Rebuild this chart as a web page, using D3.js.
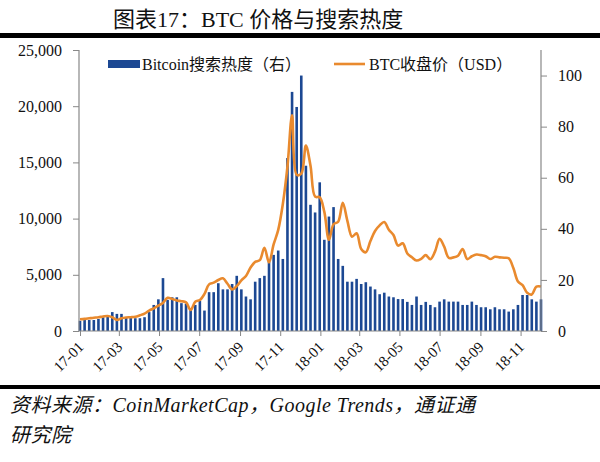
<!DOCTYPE html>
<html><head><meta charset="utf-8">
<script src="https://cdn.jsdelivr.net/npm/d3@7"></script>
<style>
html,body{margin:0;padding:0;background:#fff;}
svg{display:block;}
</style></head>
<body><div id="chart"></div>
<script>
// ---------- data ----------
const firstWeek = "2017-01-01";
const lastWeek = "2018-12-02";
// Google search interest for "Bitcoin" (right axis), weekly
const searchValues = [4.0,4.3,4.3,4.3,4.7,5.4,5.9,7.4,6.7,6.7,5.4,5.4,5.0,5.0,5.4,7.4,10.2,12.4,20.7,12.2,13.2,13.2,10.9,10.7,8.3,10.2,11.8,8.0,15.2,15.2,18.7,16.3,16.3,18.4,
21.6,16.3,13.5,12.4,19.3,20.7,21.6,27.2,29.8,31.5,28.2,67.7,93.6,87.7,100,64.7,49.4,46.4,58.2,35.7,44.8,48.5,28.2,25.5,19.3,
19.3,20.4,18.4,19.1,17.4,16.3,14.4,15.0,13.5,13.2,12.5,12.5,11.4,10.2,13.5,10.2,11.4,10.2,9.3,
11.5,12.4,11.5,11.5,11.5,10.2,10.2,11.5,10.2,9.3,9.3,8.5,9.3,8.5,8.5,7.6,8.5,10.2,14.1,14.1,12.4,11.5,12.4];
// BTC close price (USD, left axis), weekly
const priceValues = [1040,1080,1130,1180,1220,1290,1335,1220,990,1130,1200,1230,1270,1400,1550,1820,2020,2250,2500,2950,2850,2720,2650,2550,1870,2600,2760,
3300,4150,4300,4540,4690,4200,3700,3990,4500,4900,5650,6150,6300,7400,6100,7700,9000,11300,14620,19200,13900,14000,16500,14700,11950,11900,10600,8100,
9500,9720,11400,9800,8390,8690,7300,7000,8000,8900,9400,9700,9000,8540,7600,7800,6900,6560,6270,6420,6750,6380,7060,8200,7500,6500,6550,6700,7300,6400,6650,6800,6750,6650,6400,6600,6550,6520,6470,5600,4400,4080,3400,3250,3950,3950];
const xTickDates = ["2017-01-01","2017-03-01","2017-05-01","2017-07-01","2017-09-01","2017-11-01","2018-01-01","2018-03-01","2018-05-01","2018-07-01","2018-09-01","2018-11-01"];
const xTickLabels = ["17-01","17-03","17-05","17-07","17-09","17-11","18-01","18-03","18-05","18-07","18-09","18-11"];
const leftTicks = [0,5000,10000,15000,20000,25000];
const rightTicks = [0,20,40,60,80,100];
const titleText = "图表17：BTC 价格与搜索热度";
const legendLabels = ["Bitcoin搜索热度（右）","BTC收盘价（USD）"];
const sourceLines = ["资料来源：CoinMarketCap，Google Trends，通证通","研究院"];

// ---------- setup ----------
const W = 600, H = 462;
const parse = d3.timeParse("%Y-%m-%d");
const weeks = d3.timeDay.range(parse(firstWeek), d3.timeDay.offset(parse(lastWeek),1), 7);
const serif = "'Liberation Serif','Times New Roman','Noto Sans CJK SC',serif";

const svg = d3.select("#chart").append("svg").attr("width", W).attr("height", H);
svg.append("rect").attr("width", W).attr("height", H).attr("fill", "#fff");

const plot = {left: 80, right: 541, top: 50, bottom: 331};
const x = d3.scaleTime().domain([parse(firstWeek), parse(lastWeek)]).range([plot.left, plot.right]);
const yL = d3.scaleLinear().domain([0, 25000]).range([plot.bottom, plot.top]);
const yR = d3.scaleLinear().domain([0, 110]).range([plot.bottom, plot.top]);

// title
svg.append("text").attr("x", 113).attr("y", 27).attr("font-family", serif)
  .attr("font-size", 22).attr("fill", "#111").text(titleText);
svg.append("rect").attr("x", 0).attr("y", 33).attr("width", W).attr("height", 5).attr("fill", "#000");
svg.append("rect").attr("x", 0).attr("y", 385).attr("width", W).attr("height", 4).attr("fill", "#000");

// bars
const bw = 2.6;
svg.append("g").selectAll("rect").data(weeks).join("rect")
  .attr("x", (d) => x(d) - bw/2)
  .attr("y", (d,i) => yR(searchValues[i]))
  .attr("width", bw)
  .attr("height", (d,i) => yR(0) - yR(searchValues[i]))
  .attr("fill", "#1c4893");

// price line
const line = d3.line().x((d) => x(d)).y((d,i) => yL(priceValues[i])).curve(d3.curveCatmullRom.alpha(0.5));
svg.append("path").datum(weeks).attr("d", line).attr("fill", "none")
  .attr("stroke", "#e98a2e").attr("stroke-width", 2.6).attr("stroke-linejoin", "round");

// axes
const axisColor = "#888";
const gL = svg.append("g").attr("transform", `translate(${plot.left - 1},0)`)
  .call(d3.axisLeft(yL).tickValues(leftTicks).tickSize(6).tickSizeOuter(0).tickPadding(11).tickFormat(d3.format(",")));
const gR = svg.append("g").attr("transform", `translate(${plot.right},0)`)
  .call(d3.axisRight(yR).tickValues(rightTicks).tickSize(6).tickSizeOuter(0).tickPadding(11));
[gL, gR].forEach(g => {
  g.select(".domain").attr("stroke", axisColor).attr("stroke-width", 1.2).attr("d", `M0,${plot.top}V${plot.bottom}`);
  g.selectAll(".tick line").attr("stroke", axisColor);
  g.selectAll("text").attr("font-family", serif).attr("font-size", 16).attr("fill", "#111");
});
const gB = svg.append("g").attr("transform", `translate(0,${plot.bottom})`)
  .call(d3.axisBottom(x).tickValues(xTickDates.map(parse)).tickSize(5).tickSizeOuter(0)
    .tickFormat((d,i) => xTickLabels[i]));
gB.select(".domain").attr("stroke", axisColor).attr("stroke-width", 1.2).attr("d", `M${plot.left - 1},0H${plot.right}`);
gB.selectAll(".tick line").attr("stroke", axisColor);
gB.selectAll("text").attr("font-family", serif).attr("font-size", 15).attr("fill", "#111")
  .attr("text-anchor", "end").attr("dy", 0).attr("y", 0)
  .attr("transform", "translate(4,17) rotate(-45)");

// legend
const lg = svg.append("g");
lg.append("rect").attr("x", 108).attr("y", 60).attr("width", 32).attr("height", 8).attr("fill", "#1c4893");
lg.append("text").attr("x", 142).attr("y", 70).attr("font-family", serif).attr("font-size", 16).attr("fill", "#111").text(legendLabels[0]);
lg.append("line").attr("x1", 334).attr("x2", 365).attr("y1", 64).attr("y2", 64).attr("stroke", "#e98a2e").attr("stroke-width", 2.6);
lg.append("text").attr("x", 369).attr("y", 70).attr("font-family", serif).attr("font-size", 16).attr("fill", "#111").text(legendLabels[1]);

// source
svg.append("text").attr("x", 10).attr("y", 412).attr("font-family", serif).attr("font-style", "italic")
  .attr("font-size", 20).attr("letter-spacing", 0.5).attr("fill", "#111").text(sourceLines[0]);
svg.append("text").attr("x", 10).attr("y", 442).attr("font-family", serif).attr("font-style", "italic")
  .attr("font-size", 20).attr("letter-spacing", 0.5).attr("fill", "#111").text(sourceLines[1]);
</script></body></html>
